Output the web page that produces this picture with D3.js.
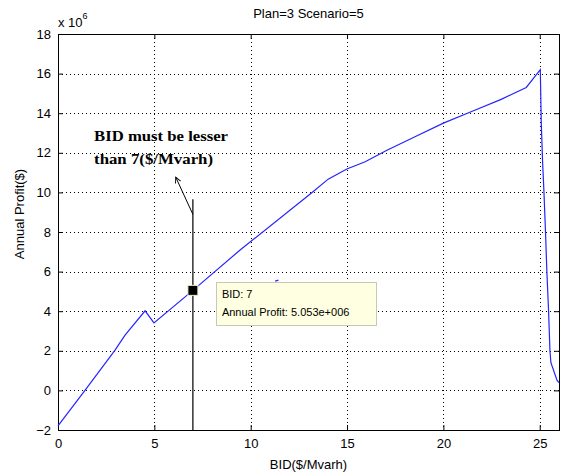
<!DOCTYPE html>
<html>
<head>
<meta charset="utf-8">
<script src="https://cdn.jsdelivr.net/npm/d3@7"></script>
<style>
  body { margin: 0; background: #fff; }
  text { font-family: "Liberation Sans", Arial, sans-serif; }
</style>
</head>
<body>
<div id="chart"></div>
<script>
// BID ($/Mvarh) vs annual profit (x 10^6 $)
const bid    = [0, 1.4, 2.96, 3.48, 4.52, 4.98, 7, 9.45, 13.17, 14.02, 14.99, 15.94, 17.07, 18.5, 20, 21.5, 23, 24.3, 25.03, 25.08, 25.15, 25.22, 25.3, 25.37, 25.46, 25.53, 25.58, 25.9, 26];
const profit = [-1.79, 0, 2.03, 2.79, 4.02, 3.41, 5.053, 7.09, 9.98, 10.67, 11.18, 11.55, 12.13, 12.8, 13.5, 14.1, 14.7, 15.3, 16.2, 13.5, 11.5, 10, 8, 6, 4, 2, 1.4, 0.5, 0.4];
const strayBid = [11.27, 11.44];
const strayProfit = [5.52, 5.57];
const xTicks = [0, 5, 10, 15, 20, 25];
const yTicks = [-2, 0, 2, 4, 6, 8, 10, 12, 14, 16, 18];
const tipBid = 7, tipProfit = 5.053;

function init() {
  const width = 566, height = 474;
  const margin = { top: 34, right: 7, bottom: 44, left: 58 };
  const innerW = width - margin.left - margin.right;
  const innerH = height - margin.top - margin.bottom;

  const x = d3.scaleLinear().domain([0, 26]).range([0, innerW]);
  const y = d3.scaleLinear().domain([-2, 18]).range([innerH, 0]);

  const svg = d3.select('#chart').append('svg')
    .attr('width', width).attr('height', height);
  const g = svg.append('g').attr('transform', 'translate(' + margin.left + ',' + margin.top + ')');

  // grid
  g.selectAll('.gx').data(xTicks.filter(d => d > 0)).enter().append('line')
    .attr('x1', d => Math.round(x(d)) + 0.5).attr('x2', d => Math.round(x(d)) + 0.5)
    .attr('y1', 0).attr('y2', innerH)
    .attr('stroke', '#000').attr('stroke-width', 1).attr('stroke-dasharray', '1,3');
  g.selectAll('.gy').data(yTicks.filter(d => d > -2 && d < 18)).enter().append('line')
    .attr('y1', d => Math.round(y(d)) + 0.5).attr('y2', d => Math.round(y(d)) + 0.5)
    .attr('x1', 0).attr('x2', innerW)
    .attr('stroke', '#000').attr('stroke-width', 1).attr('stroke-dasharray', '1,3');

  // axes
  const xAxis = d3.axisBottom(x).tickValues(xTicks).tickSizeInner(-5).tickSizeOuter(0).tickPadding(9);
  const yAxis = d3.axisLeft(y).tickValues(yTicks).tickSizeInner(-5).tickSizeOuter(0).tickPadding(7);
  const xa = g.append('g').attr('transform', 'translate(0,' + innerH + ')').call(xAxis);
  const ya = g.append('g').call(yAxis);
  [xa, ya].forEach(a => {
    a.select('.domain').remove();
    a.selectAll('text').style('font-size', '13px').attr('fill', '#000');
    a.selectAll('line').attr('stroke', '#000');
  });
  // ticks on top/right
  g.append('g').call(d3.axisTop(x).tickValues(xTicks).tickSizeInner(-5).tickSizeOuter(0).tickFormat(''))
    .select('.domain').remove();
  g.append('g').attr('transform', 'translate(' + innerW + ',0)')
    .call(d3.axisRight(y).tickValues(yTicks).tickSizeInner(-5).tickSizeOuter(0).tickFormat(''))
    .select('.domain').remove();

  g.append('rect').attr('x', 0.5).attr('y', 0.5).attr('width', innerW).attr('height', innerH)
    .attr('fill', 'none').attr('stroke', '#000').attr('stroke-width', 1);

  // curve
  const pts = bid.map((b, i) => [b, profit[i]]);
  const line = d3.line().x(d => x(d[0])).y(d => y(d[1]));
  g.append('path').datum(pts).attr('d', line)
    .attr('fill', 'none').attr('stroke', '#2424ff').attr('stroke-width', 1.2);
  g.append('path').datum(strayBid.map((b, i) => [b, strayProfit[i]])).attr('d', line)
    .attr('fill', 'none').attr('stroke', '#2424ff').attr('stroke-width', 1.2);

  // vertical line at BID 7
  g.append('line')
    .attr('x1', x(tipBid)).attr('x2', x(tipBid))
    .attr('y1', y(9.66)).attr('y2', innerH)
    .attr('stroke', '#000').attr('stroke-width', 1.2);

  // arrow
  svg.append('defs').append('marker').attr('id', 'ah')
    .attr('viewBox', '0 0 10 10').attr('refX', 9).attr('refY', 5)
    .attr('markerWidth', 7).attr('markerHeight', 7).attr('orient', 'auto')
    .append('path').attr('d', 'M1,1 L9,5 L1,9').attr('fill', 'none').attr('stroke', '#000').attr('stroke-width', 1.3);
  g.append('line')
    .attr('x1', x(tipBid)).attr('y1', y(8.89))
    .attr('x2', x(6.11)).attr('y2', y(10.77))
    .attr('stroke', '#000').attr('stroke-width', 1).attr('marker-end', 'url(#ah)');

  // annotation text
  const ann = g.append('text')
    .style('font-family', '"Liberation Serif", "Times New Roman", serif')
    .style('font-weight', 'bold').style('font-size', '14px').attr('fill', '#000');
  ann.append('tspan').attr('x', x(1.87)).attr('y', y(12.6))
    .attr('textLength', 134).attr('lengthAdjust', 'spacingAndGlyphs').text('BID must be lesser');
  ann.append('tspan').attr('x', x(1.87)).attr('y', y(11.43))
    .attr('textLength', 119).attr('lengthAdjust', 'spacingAndGlyphs').text('than 7($/Mvarh)');

  // datatip
  const mx = x(tipBid), my = y(tipProfit);
  g.append('rect').attr('x', Math.round(mx) + 23.5).attr('y', Math.round(my) - 7.5)
    .attr('width', 160).attr('height', 43)
    .attr('fill', '#ffffe1').attr('stroke', '#c8c8b8');
  g.append('text').attr('x', mx + 29).attr('y', my + 8).style('font-size', '11px').text('BID: ' + tipBid);
  g.append('text').attr('x', mx + 29).attr('y', my + 26).style('font-size', '11px')
    .text('Annual Profit: ' + '5.053e+006');
  g.append('rect').attr('x', mx - 5).attr('y', my - 5).attr('width', 10).attr('height', 10)
    .attr('fill', '#000').attr('stroke', '#f2f2c8').attr('stroke-width', 1);

  // titles
  svg.append('text').attr('x', margin.left + innerW / 2).attr('y', 18)
    .attr('text-anchor', 'middle').style('font-size', '13px').text('Plan=3 Scenario=5');
  const ex = svg.append('text').attr('x', margin.left).attr('y', 27).style('font-size', '13px');
  ex.append('tspan').text('x 10');
  ex.append('tspan').attr('dy', -8).style('font-size', '9px').text('6');
  svg.append('text').attr('x', margin.left + innerW / 2).attr('y', 469)
    .attr('text-anchor', 'middle').style('font-size', '13px').text('BID($/Mvarh)');
  svg.append('text').attr('transform', 'translate(24,' + (margin.top + innerH / 2 - 18) + ') rotate(-90)')
    .attr('text-anchor', 'middle').style('font-size', '13px').text('Annual Profit($)');
}

window.onload = init;
</script>
</body>
</html>
